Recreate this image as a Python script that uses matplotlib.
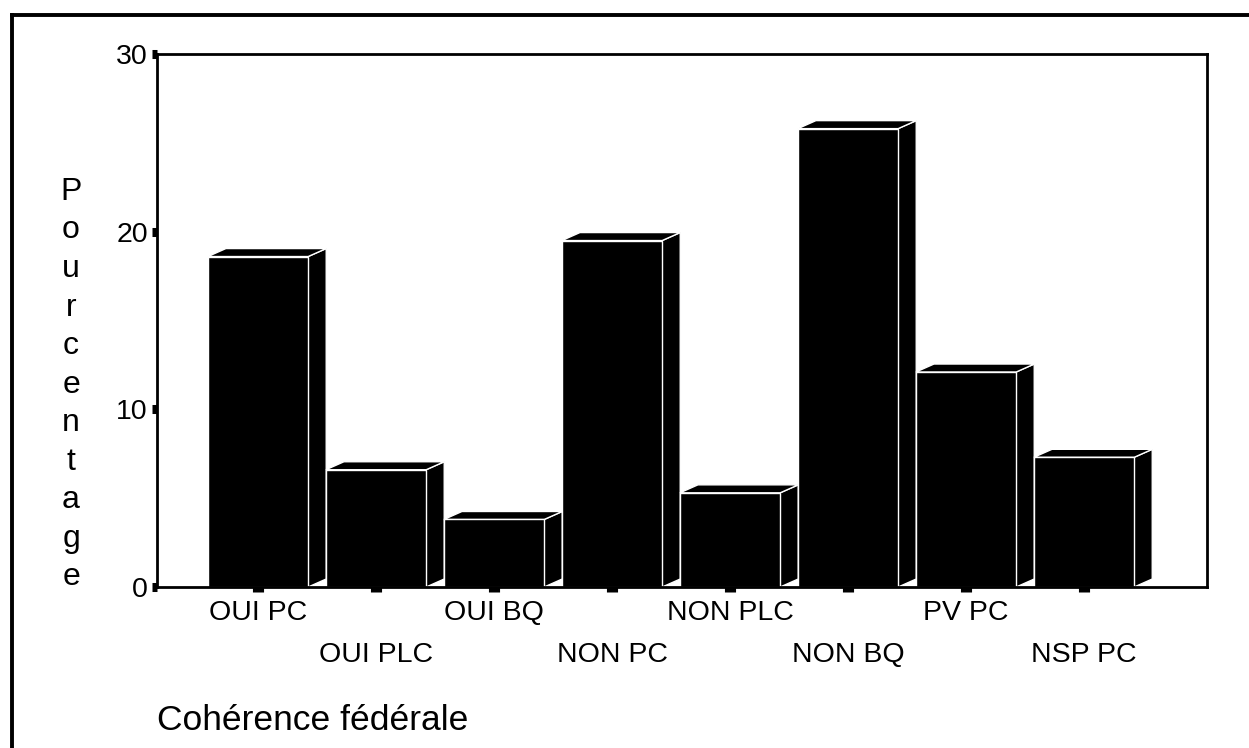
import matplotlib
matplotlib.use("Agg")
import matplotlib.pyplot as plt
from matplotlib import font_manager
from matplotlib.patches import Polygon, Rectangle
from matplotlib.lines import Line2D

categories = ["OUI PC", "OUI PLC", "OUI BQ", "NON PC", "NON PLC", "NON BQ", "PV PC", "NSP PC"]
percent = [18.6, 6.6, 3.8, 19.5, 5.3, 25.8, 12.1, 7.3]
y_ticks = [0, 10, 20, 30]
y_title = "Pourcentage"
x_title = "Cohérence fédérale"

# narrow face for the tick labels, if it is there
try:
    font_manager.findfont("Liberation Sans Narrow", fallback_to_default=False)
    narrow = "Liberation Sans Narrow"
    narrow_size = 23.5
except ValueError:
    narrow = "Liberation Sans"
    narrow_size = 20.5
regular = "Liberation Sans"

fig = plt.figure(figsize=(12.49, 7.48), dpi=100)
ax = fig.add_axes([157 / 1249, 1 - 587 / 748, 1050 / 1249, 533 / 748])

# bar geometry in data units
width = 0.85
dx, dy = 0.153, 0.45

for i, h in enumerate(percent):
    x0 = i - width / 2
    x1 = i + width / 2
    side = Polygon([(x1, 0), (x1, h), (x1 + dx, h + dy), (x1 + dx, dy)],
                   closed=True, facecolor="black", edgecolor="white", lw=1.0, zorder=1)
    top = Polygon([(x0, h), (x0 + dx, h + dy), (x1 + dx, h + dy), (x1, h)],
                  closed=True, facecolor="black", edgecolor="white", lw=1.0, zorder=1)
    front = Rectangle((x0, 0), width, h, facecolor="black", edgecolor="white", lw=1.0, zorder=1.2)
    ax.add_patch(side)
    ax.add_patch(top)
    ax.add_patch(front)

ax.set_xlim(-0.856, 8.042)
ax.set_ylim(0, 30)

for s in ax.spines.values():
    s.set_linewidth(2.0)
    s.set_color("black")
    s.set_zorder(3)

ax.set_yticks(y_ticks)
ax.set_yticklabels([str(t) for t in y_ticks], family=narrow, fontsize=narrow_size)
ax.tick_params(axis="y", direction="out", length=3.6, width=6.5, pad=3, color="black")

ax.set_xticks(range(len(categories)))
ax.set_xticklabels([])
ax.tick_params(axis="x", direction="out", length=3.6, width=8, color="black")

# staggered category labels, two rows
for i, name in enumerate(categories):
    yrow = -0.0619 if i % 2 == 0 else -0.1407
    ax.text(i, yrow, name, transform=ax.get_xaxis_transform(), ha="center", va="baseline",
            family=narrow, fontsize=narrow_size, clip_on=False)

# vertical stacked y title
step = 38.5
for k, ch in enumerate(y_title):
    fig.text(71 / 1249, 1 - (200 + k * step) / 748, ch, ha="center", va="baseline",
             family=regular, fontsize=23)

fig.text(157 / 1249, 1 - 730 / 748, x_title, ha="left", va="baseline",
         family=regular, fontsize=25.5)

# outer frame, left and top edges
fig.add_artist(Line2D([11.5 / 1249, 11.5 / 1249], [0, 1 - 14.5 / 748],
                      transform=fig.transFigure, color="black", lw=2.8, solid_capstyle="projecting"))
fig.add_artist(Line2D([11.5 / 1249, 1], [1 - 14.5 / 748, 1 - 14.5 / 748],
                      transform=fig.transFigure, color="black", lw=2.8, solid_capstyle="projecting"))

fig.savefig("out.png", dpi=100, facecolor="white")
